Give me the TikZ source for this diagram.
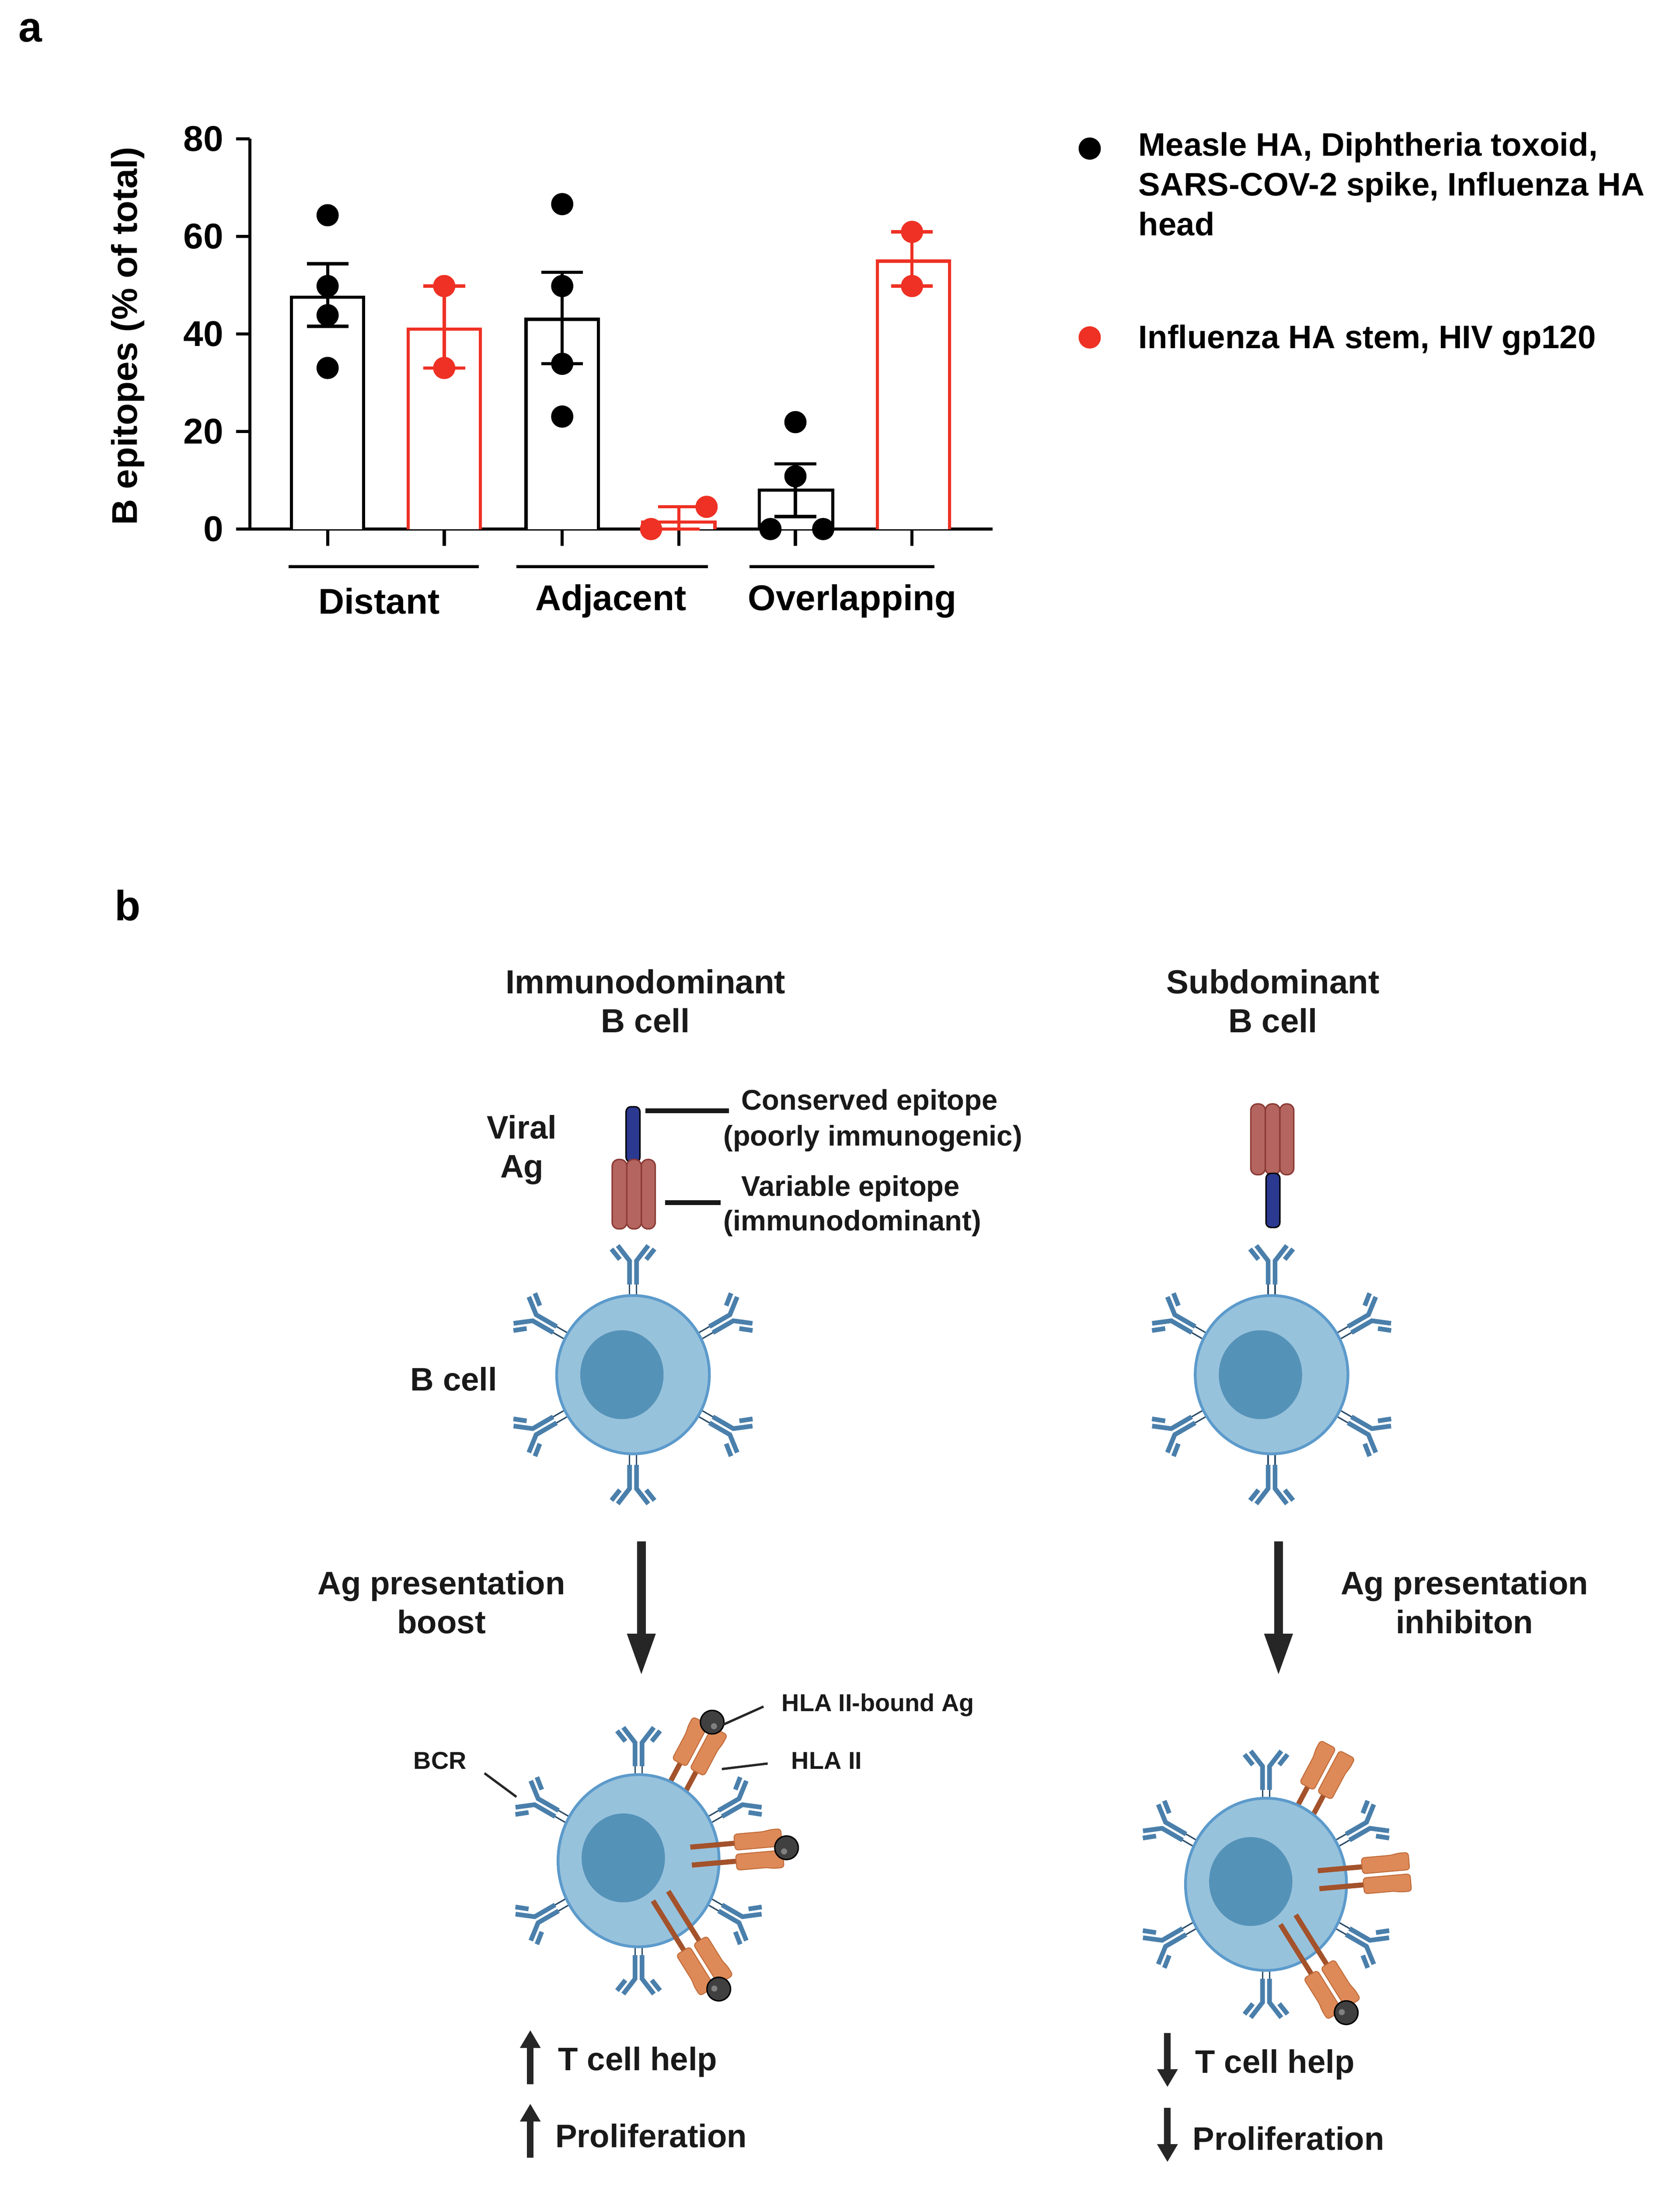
\documentclass[tikz,border=0pt]{standalone}
\usepackage{fontspec}
\setmainfont{Liberation Sans}
\usetikzlibrary{arrows.meta}
\definecolor{abc}{HTML}{4A7FAB}
\definecolor{cellc}{HTML}{97C2DC}
\definecolor{celle}{HTML}{5C9ACB}
\definecolor{nuc}{HTML}{5592B8}
\definecolor{hlac}{HTML}{DE8A58}
\definecolor{hlae}{HTML}{C06A38}
\definecolor{stalkc}{HTML}{A3522B}
\definecolor{agred}{HTML}{B5655F}
\definecolor{agrede}{HTML}{8B3A35}
\definecolor{agblue}{HTML}{2B3990}
\definecolor{myred}{HTML}{EE3124}
\tikzset{
 ab/.style={abc,line width=0.1cm},
 abthin/.style={abc!60!black,line width=0.03cm},
 stalk/.style={stalkc,line width=0.11cm},
 hla/.style={fill=hlac,draw=hlae,line width=0.02cm,rounded corners=2pt},
 ball/.style={fill=black!75,draw=black,line width=0.03cm},
 cell/.style={fill=cellc,draw=celle,line width=0.06cm},
 nucleus/.style={fill=nuc,draw=none},
 txt/.style={font=\fontsize{20}{24}\selectfont\bfseries,align=center,text=black!90},
 stxt/.style={font=\fontsize{15}{18}\selectfont\bfseries,text=black!90},
 lbl/.style={font=\fontsize{22}{26}\selectfont\bfseries},
 bigarrow/.style={black!85,line width=0.19cm,-{Triangle[width=16pt,length=26pt]}},
 smallarrow/.style={black!85,line width=0.14cm,-{Triangle[width=12pt,length=11pt]}},
 axis/.style={black,line width=0.07cm},
 bar/.style={line width=0.07cm,fill=white},
 dot/.style={circle,fill=#1,inner sep=0pt,minimum size=0.48cm},
 ptr/.style={black!85,line width=0.05cm}
}
\newcommand\Ab[4]{\begin{scope}[shift={(#1,#2)},rotate=#3]
\draw[abthin] (#4-4,2.5)--(#4+11,2.5) (#4-4,-2.5)--(#4+11,-2.5);
\draw[ab] (#4+10,2.5)--(#4+27,2.5)--(#4+38,11) (#4+10,-2.5)--(#4+27,-2.5)--(#4+38,-11);
\draw[ab] (#4+28,9.5)--(#4+35.5,15.5) (#4+28,-9.5)--(#4+35.5,-15.5);
\end{scope}}
\newcommand\Hla[5]{\begin{scope}[shift={(#1,#2)},rotate=#3]
\draw[stalk] (#5,6.5)--(#4+20,6.5) (#5,-6.5)--(#4+20,-6.5);
\draw[hla] (#4+18,1.5)--(#4+52,1.5)--(#4+52,14)--(#4+44,14)--(#4+40,13)--(#4+18,13)--cycle;
\draw[hla] (#4+18,-1.5)--(#4+52,-1.5)--(#4+52,-14)--(#4+44,-14)--(#4+40,-13)--(#4+18,-13)--cycle;
\end{scope}}
\newcommand\Ball[4]{\begin{scope}[shift={(#1,#2)},rotate=#3]
\draw[ball] (#4+55,0) circle (8.5);
\fill[black!50] (#4+53,2.5) circle (2.2);
\end{scope}}
\begin{document}
\begin{tikzpicture}[x=0.03cm,y=-0.03cm]
\useasboundingbox (0,0) rectangle (1210,1575);
\fill[white] (0,0) rectangle (1210,1575);
\node[lbl,font=\fontsize{26}{30}\selectfont\bfseries] (pa) at (22,22) {a};
\node[lbl,font=\fontsize{26}{30}\selectfont\bfseries] (pb) at (92,652) {b};
% ---------- chart ----------
\draw[axis] (180,100)--(180,381)--(715,381);
\foreach \v/\y in {80/100,60/170.3,40/240.5,20/310.8,0/381}{
 \draw[axis] (170,\y)--(180,\y);
 \node[lbl,anchor=east] at (165,\y) {\v};}
\foreach \x in {236,320,405,489,573,657}{\draw[axis] (\x,381)--(\x,393);}
\node[lbl,rotate=90] (ylab) at (92,242) {B epitopes (\% of total)};
\draw[bar] (210,381)--(210,214)--(262,214)--(262,381);
\draw[bar,draw=myred] (294,381)--(294,237)--(346,237)--(346,381);
\draw[bar] (379,381)--(379,230)--(431,230)--(431,381);
\draw[bar,draw=myred] (463,381)--(463,376)--(515,376)--(515,381);
\draw[bar] (547,381)--(547,353)--(600,353)--(600,381);
\draw[bar,draw=myred] (632,381)--(632,188)--(684,188)--(684,381);
\foreach \x/\a/\b/\c in {236/235/190/black,320/265/206/myred,405/262/196/black,489/381/365/myred,573/372/334/black,657/206/167/myred}{
 \draw[\c,line width=0.07cm] (\x,\a)--(\x,\b) (\x-15,\a)--(\x+15,\a) (\x-15,\b)--(\x+15,\b);}
\foreach \x/\y in {236/155,236/206,236/227,236/265,405/147,405/206,405/262,405/300,573/304,573/343,555/381,593/381}{
 \node[dot=black] at (\x,\y) {};}
\foreach \x/\y in {320/206,320/265,469/381,509/365,657/167,657/206}{
 \node[dot=myred] at (\x,\y) {};}
\draw[axis] (208,408)--(345,408) (372,408)--(510,408) (540,408)--(673,408);
\node[lbl] (g1) at (273,433) {Distant};
\node[lbl] (g2) at (440,433) {Adjacent};
\node[lbl] (g3) at (614,433) {Overlapping};
\node[dot=black] (l1) at (785,107) {};
\node[lbl,anchor=north west,align=left,font=\fontsize{20}{24.5}\selectfont\bfseries,inner sep=0pt] (l1t) at (820,95) {Measle HA, Diphtheria toxoid,\\SARS-COV-2 spike, Influenza HA\\head};
\node[dot=myred] (l2) at (785,243) {};
\node[lbl,anchor=west,font=\fontsize{20}{24}\selectfont\bfseries,inner sep=0pt] (l2t) at (820,245) {Influenza HA stem, HIV gp120};
% ---------- panel b ----------
\node[txt,font=\fontsize{20.5}{24}\selectfont\bfseries] (t1) at (465,721) {Immunodominant\\B cell};
\node[txt,font=\fontsize{20.5}{24}\selectfont\bfseries] (t2) at (917,721) {Subdominant\\B cell};
\node[txt] (viral) at (376,828) {Viral\\Ag};
\draw[fill=agblue,draw=black,line width=0.03cm,rounded corners=3pt] (451,837)--(451,797)--(461,797)--(461,837)--cycle;
\foreach \a/\b in {441/451.5,451.5/462,462/472}{
 \draw[fill=agred,draw=agrede,line width=0.03cm,rounded corners=4pt] (\a,835) rectangle (\b,885);}
\coordinate (c1a) at (465,800); \coordinate (c1b) at (525,800);
\coordinate (c2a) at (479,866); \coordinate (c2b) at (519,866);
\draw[black!90,line width=0.1cm] (c1a)--(c1b) (c2a)--(c2b);
\node[stxt,anchor=west,font=\fontsize{17.5}{20}\selectfont\bfseries] (ce) at (530,794) {Conserved epitope};
\node[stxt,anchor=west,font=\fontsize{17.5}{20}\selectfont\bfseries] (ce2) at (517,820) {(poorly immunogenic)};
\node[stxt,anchor=west,font=\fontsize{17.5}{20}\selectfont\bfseries] (ve) at (530,856) {Variable epitope};
\node[stxt,anchor=west,font=\fontsize{17.5}{20}\selectfont\bfseries] (ve2) at (517,881) {(immunodominant)};
\foreach \a/\b in {901/911.5,911.5/922,922/932}{
 \draw[fill=agred,draw=agrede,line width=0.03cm,rounded corners=4pt] (\a,795) rectangle (\b,846);}
\draw[fill=agblue,draw=black,line width=0.03cm,rounded corners=3pt] (912,845)--(912,884)--(922,884)--(922,845)--cycle;
\foreach \cx in {456,916}{
 \foreach \ang in {90,150,210,270,330,30}{\Ab{\cx}{990}{\ang}{55}}
 \draw[cell] (\cx,990) ellipse (55 and 57);
 \fill[nucleus] (\cx-8,990) ellipse (30 and 32);}
\node[txt] (bc) at (327,993) {B cell};
\coordinate (a1s) at (462,1110); \coordinate (a1e) at (462,1207);
\coordinate (a2s) at (921,1110); \coordinate (a2e) at (921,1207);
\draw[bigarrow] (a1s)--(a1e);
\draw[bigarrow] (a2s)--(a2e);
\node[txt] (ag1) at (318,1154) {Ag presentation\\boost};
\node[txt] (ag2) at (1055,1154) {Ag presentation\\inhibiton};
% cell row 2 left
\foreach \ang in {90,150,210,270,330,30}{\Ab{460}{1340}{\ang}{58}}
\Hla{460}{1340}{62}{58}{58}
\draw[cell] (460,1340) ellipse (58 and 62);
\fill[nucleus] (449,1338) ellipse (30 and 32);
\Hla{460}{1340}{5}{52}{38}
\Hla{460}{1340}{-58}{54}{30}
\Ball{460}{1340}{62}{58}
\Ball{460}{1340}{5}{52}
\Ball{460}{1340}{-58}{54}
\coordinate (bcr1) at (349,1277); \coordinate (bcr2) at (372,1294);
\draw[ptr] (bcr1)--(bcr2);
\node[stxt] (bcr) at (317,1268) {BCR};
\coordinate (h1a) at (521,1242); \coordinate (h1b) at (550,1229);
\draw[ptr] (h1a)--(h1b);
\node[stxt,anchor=west] (hb) at (559,1228) {HLA II-bound Ag};
\coordinate (h2a) at (520,1274); \coordinate (h2b) at (553,1270);
\draw[ptr] (h2a)--(h2b);
\node[stxt,anchor=west] (hl) at (566,1268) {HLA II};
% cell row 2 right
\foreach \ang in {90,150,210,270,330,30}{\Ab{912}{1357}{\ang}{58}}
\Hla{912}{1357}{62}{58}{58}
\draw[cell] (912,1357) ellipse (58 and 62);
\fill[nucleus] (901,1355) ellipse (30 and 32);
\Hla{912}{1357}{5}{52}{38}
\Hla{912}{1357}{-58}{54}{30}
\Ball{912}{1357}{-58}{54}
\coordinate (u1s) at (382,1501); \coordinate (u1e) at (382,1462);
\coordinate (u2s) at (382,1554); \coordinate (u2e) at (382,1515);
\draw[smallarrow] (u1s)--(u1e); \draw[smallarrow] (u2s)--(u2e);
\node[txt,anchor=west] (th1) at (398,1485) {T cell help};
\node[txt,anchor=west] (pr1) at (396,1538) {Proliferation};
\coordinate (d1s) at (841,1464); \coordinate (d1e) at (841,1503);
\coordinate (d2s) at (841,1518); \coordinate (d2e) at (841,1557);
\draw[smallarrow] (d1s)--(d1e); \draw[smallarrow] (d2s)--(d2e);
\node[txt,anchor=west] (th2) at (857,1487) {T cell help};
\node[txt,anchor=west] (pr2) at (855,1540) {Proliferation};
\end{tikzpicture}
\end{document}
